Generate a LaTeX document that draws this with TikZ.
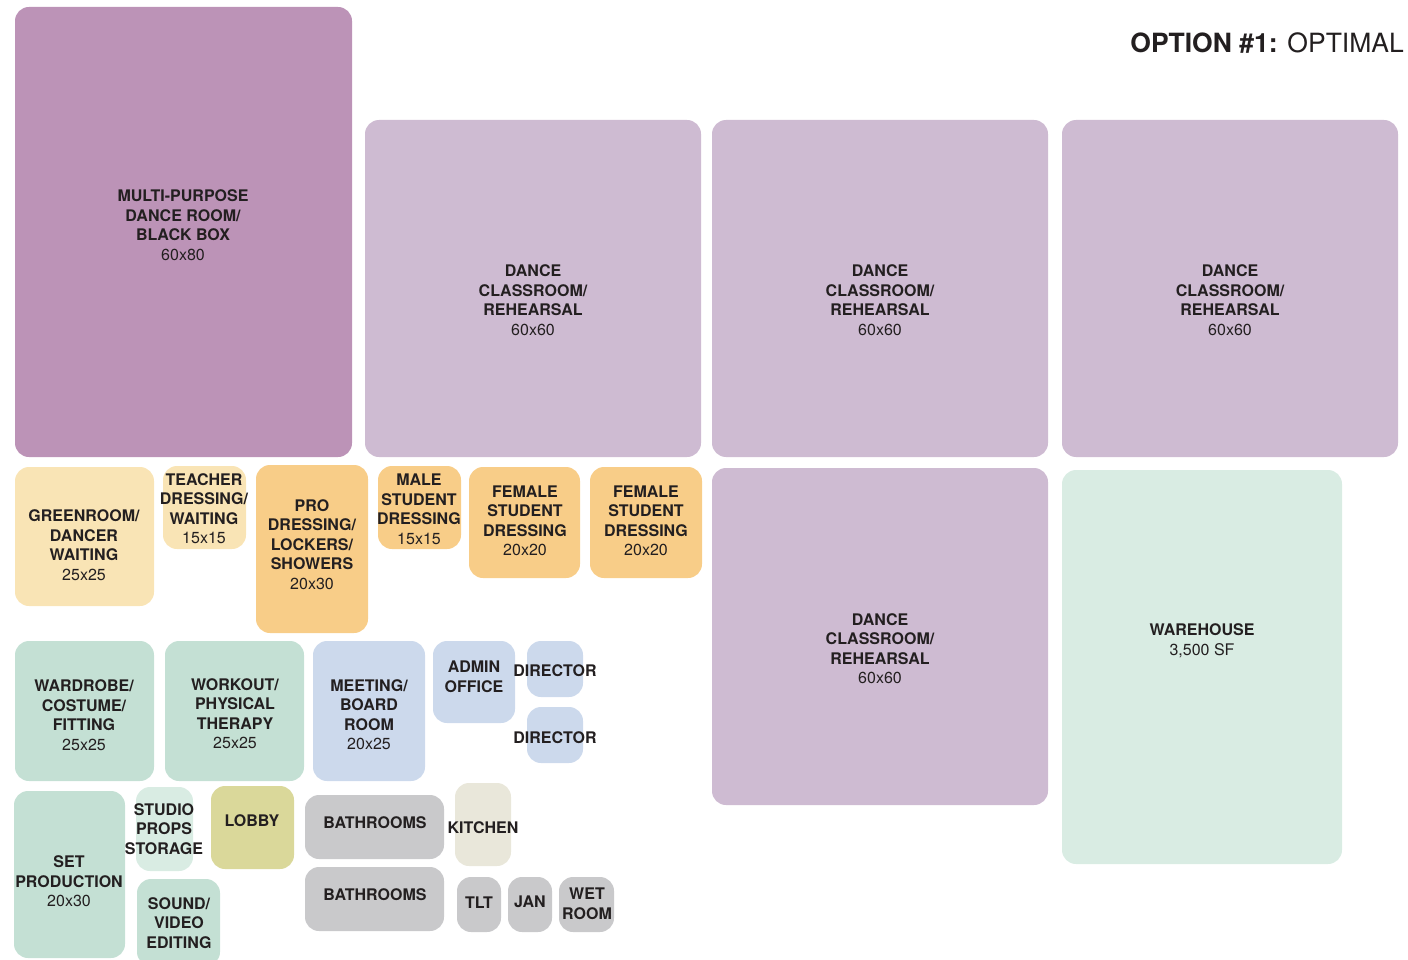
\documentclass[tikz,border=0pt]{standalone}
\usepackage{fontspec}
\setmainfont{TeX Gyre Heros}
\usepackage{xcolor}

\definecolor{ink}{HTML}{231F20}
\definecolor{mprpurple}{HTML}{BC93B7}
\definecolor{dancepurple}{HTML}{CEBBD2}
\definecolor{paleyellow}{HTML}{F9E4B5}
\definecolor{dressorange}{HTML}{F8CD88}
\definecolor{sagegreen}{HTML}{C4E0D4}
\definecolor{mintgreen}{HTML}{D9ECE3}
\definecolor{officeblue}{HTML}{CCD9EC}
\definecolor{lobbyolive}{HTML}{DAD89A}
\definecolor{wetgray}{HTML}{C9C9CB}
\definecolor{kitchenbeige}{HTML}{E9E7DA}

\begin{document}
\begin{tikzpicture}[x=1pt,y=-1pt,
  room/.style={align=center,text=ink,inner sep=0pt,
    font=\fontsize{16}{19.5}\selectfont\bfseries},
  every path/.style={rounded corners=14}]
\useasboundingbox (0,0) rectangle (1408,960);
% title
\node[anchor=base east,text=ink,inner sep=0pt,font=\fontsize{26.5}{30}\selectfont] (title) at (1404,52.5)
  {\bfseries OPTION \#1: \mdseries OPTIMAL};
% studios
\fill[mprpurple] (15,7) rectangle (352,457);
\node[room] (mpr) at (183,225) {MULTI-PURPOSE\\DANCE ROOM/\\BLACK BOX\\\mdseries 60x80};
\fill[dancepurple] (365,120) rectangle (701,457);
\node[room] (danceA) at (533,300) {DANCE\\CLASSROOM/\\REHEARSAL\\\mdseries 60x60};
\fill[dancepurple] (712,120) rectangle (1048,457);
\node[room] (danceB) at (880,300) {DANCE\\CLASSROOM/\\REHEARSAL\\\mdseries 60x60};
\fill[dancepurple] (1062,120) rectangle (1398,457);
\node[room] (danceC) at (1230,300) {DANCE\\CLASSROOM/\\REHEARSAL\\\mdseries 60x60};
\fill[dancepurple] (712,468) rectangle (1048,805);
\node[room] (danceD) at (880,648.5) {DANCE\\CLASSROOM/\\REHEARSAL\\\mdseries 60x60};
\fill[mintgreen] (1062,470) rectangle (1342,864);
\node[room] (warehouse) at (1202,640.5) {WAREHOUSE\\\mdseries 3,500 SF};
% dressing
\fill[paleyellow] (15,467) rectangle (154,606);
\node[room] (greenroom) at (84,545) {GREENROOM/\\DANCER\\WAITING\\\mdseries 25x25};
\fill[paleyellow] (163,466) rectangle (246,549);
\node[room] (teacher) at (204,508.5) {TEACHER\\DRESSING/\\WAITING\\\mdseries 15x15};
\fill[dressorange] (256,465) rectangle (368,633);
\node[room] (pro) at (312,544.5) {PRO\\DRESSING/\\LOCKERS/\\SHOWERS\\\mdseries 20x30};
\fill[dressorange] (378,466) rectangle (461,549);
\node[room] (male) at (419,509.5) {MALE\\STUDENT\\DRESSING\\\mdseries 15x15};
\fill[dressorange] (469,467) rectangle (580,578);
\node[room] (femaleA) at (525,521) {FEMALE\\STUDENT\\DRESSING\\\mdseries 20x20};
\fill[dressorange] (590,467) rectangle (702,578);
\node[room] (femaleB) at (646,521) {FEMALE\\STUDENT\\DRESSING\\\mdseries 20x20};
% support rooms
\fill[sagegreen] (15,641) rectangle (154,781);
\node[room] (wardrobe) at (84,715) {WARDROBE/\\COSTUME/\\FITTING\\\mdseries 25x25};
\fill[sagegreen] (165,641) rectangle (304,781);
\node[room] (workout) at (235,713.5) {WORKOUT/\\PHYSICAL\\THERAPY\\\mdseries 25x25};
\fill[sagegreen] (14,791) rectangle (125,958);
\node[room] (setprod) at (69,881.5) {SET\\PRODUCTION\\\mdseries 20x30};
\fill[mintgreen] (136,787) rectangle (193,871);
\node[room] (props) at (164,829) {STUDIO\\PROPS\\STORAGE};
\fill[sagegreen] (137,879) rectangle (220,966);
\node[room] (sound) at (179,923) {SOUND/\\VIDEO\\EDITING};
% offices
\fill[officeblue] (313,641) rectangle (425,781);
\node[room] (meeting) at (369,714.5) {MEETING/\\BOARD\\ROOM\\\mdseries 20x25};
\fill[officeblue] (433,641) rectangle (515,723);
\node[room] (admin) at (474,677) {ADMIN\\OFFICE};
\fill[officeblue] (527,641) rectangle (583,697);
\node[room] (directorA) at (555,670.5) {DIRECTOR};
\fill[officeblue] (527,707) rectangle (583,763);
\node[room] (directorB) at (555,737.5) {DIRECTOR};
\fill[lobbyolive] (211,786) rectangle (294,869);
\node[room] (lobby) at (252,820.5) {LOBBY};
% services
\fill[wetgray] (305,795) rectangle (444,859);
\node[room] (bathA) at (375,822.5) {BATHROOMS};
\fill[wetgray] (305,867) rectangle (444,931);
\node[room] (bathB) at (375,894.5) {BATHROOMS};
\fill[kitchenbeige] (455,783) rectangle (511,866);
\node[room] (kitchen) at (483,827.5) {KITCHEN};
\fill[wetgray] (457,877) rectangle (501,932);
\node[room] (tlt) at (479,902.5) {TLT};
\fill[wetgray] (508,877) rectangle (552,932);
\node[room] (jan) at (530,901.5) {JAN};
\fill[wetgray] (559,877) rectangle (614,932);
\node[room] (wetroom) at (587,904) {WET\\ROOM};
\end{tikzpicture}
\end{document}
